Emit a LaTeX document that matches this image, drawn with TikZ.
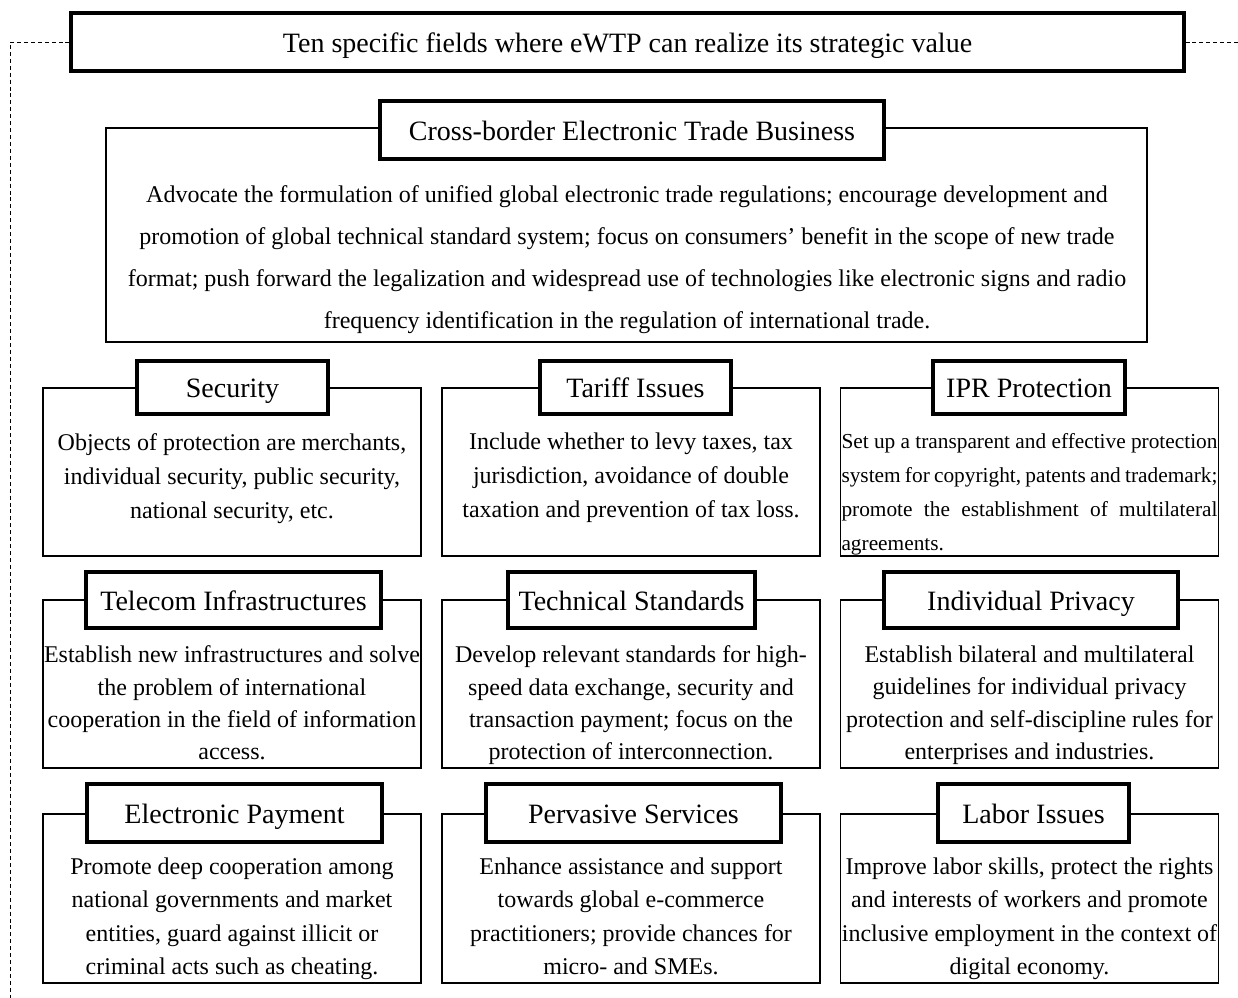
\documentclass[tikz,border=0pt]{standalone}
\usepackage{fontspec}
\setmainfont{Liberation Serif}
\begin{document}
\begin{tikzpicture}[x=0.75pt,y=-0.75pt,
  thickbox/.style={draw,line width=2.3pt,fill=white,inner sep=0pt,text height=18pt,text depth=2.5pt,font=\fontsize{21}{25}\selectfont},
  outerbox/.style={draw,line width=0.95pt,inner sep=0pt,minimum width=378*0.75pt},
  bodytext/.style={anchor=north,inner sep=0pt,align=center,font=\fontsize{18}{25.5}\selectfont},
  dashline/.style={line width=0.7pt,dash pattern=on 3pt off 2.2pt}]
\useasboundingbox (0,0) rectangle (1238,998);

% main title
\node[thickbox,minimum width=1113*0.75pt,minimum height=58*0.75pt] (title) at (627.5,42) {Ten specific fields where eWTP can realize its strategic value};
\coordinate (dlb) at (10,998);
\coordinate (dr) at (1238,42);
\draw[dashline] (title.west) -| (dlb);
\draw[dashline] (title.east) -- (dr);

% cross-border
\node[draw,line width=0.95pt,inner sep=0pt,minimum width=1041*0.75pt,minimum height=214*0.75pt] (cbo) at (626.5,235) {};
\node[thickbox,minimum width=504*0.75pt,minimum height=58*0.75pt] (cbt) at (632,130) {Cross-border Electronic Trade Business};
\node[bodytext,font=\fontsize{18}{31.5}\selectfont] (cbb) at (627,185) {Advocate the formulation of unified global electronic trade regulations; encourage development and\\
promotion of global technical standard system; focus on consumers’ benefit in the scope of new trade\\
format; push forward the legalization and widespread use of technologies like electronic signs and radio\\
frequency identification in the regulation of international trade.};

% row 1
\node[outerbox,minimum height=168*0.75pt] (so) at (232,472) {};
\node[outerbox,minimum height=168*0.75pt] (to) at (631,472) {};
\node[outerbox,minimum height=168*0.75pt] (io) at (1029.5,472) {};
\node[thickbox,minimum width=191*0.75pt,minimum height=53*0.75pt] (st) at (232.5,387.5) {Security};
\node[thickbox,minimum width=191*0.75pt,minimum height=53*0.75pt] (tt) at (635.5,387.5) {Tariff Issues};
\node[thickbox,minimum width=192*0.75pt,minimum height=53*0.75pt] (it) at (1029,387.5) {IPR Protection};
\node[bodytext] (sb) at (232,433) {Objects of protection are merchants,\\ individual security, public security,\\ national security, etc.};
\node[bodytext] (tb) at (631,433) {Include whether to levy taxes, tax\\ jurisdiction, avoidance of double\\ taxation and prevention of tax loss.};
\node[bodytext,align=left,text width=282pt,font=\fontsize{16}{25.5}\selectfont] (ib) at (1029.5,433.5) {\makebox[282pt][l]{Set\hfill up\hfill a\hfill transparent\hfill and\hfill effective\hfill protection}\\
\makebox[282pt][l]{system\hfill for\hfill copyright,\hfill patents\hfill and\hfill trademark;}\\
\makebox[282pt][l]{promote\hfill the\hfill establishment\hfill of\hfill multilateral}\\
agreements.};

% row 2
\node[outerbox,minimum height=168*0.75pt] (teo) at (232,684) {};
\node[outerbox,minimum height=168*0.75pt] (tso) at (631,684) {};
\node[outerbox,minimum height=168*0.75pt] (ipo) at (1029.5,684) {};
\node[thickbox,minimum width=295*0.75pt,minimum height=56*0.75pt] (tet) at (233.5,600) {Telecom Infrastructures};
\node[thickbox,minimum width=247*0.75pt,minimum height=56*0.75pt] (tst) at (631.5,600) {Technical Standards};
\node[thickbox,minimum width=294*0.75pt,minimum height=56*0.75pt] (ipt) at (1031,600) {Individual Privacy};
\node[bodytext,font=\fontsize{18}{24.3}\selectfont] (teb) at (232,645.5) {Establish new infrastructures and solve\\ the problem of international\\ cooperation in the field of information\\ access.};
\node[bodytext,font=\fontsize{18}{24.3}\selectfont] (tsb) at (631,645.5) {Develop relevant standards for high-\\ speed data exchange, security and\\ transaction payment; focus on the\\ protection of interconnection.};
\node[bodytext,font=\fontsize{18}{24.3}\selectfont] (ipb) at (1029.5,645.5) {Establish bilateral and multilateral\\ guidelines for individual privacy\\ protection and self-discipline rules for\\ enterprises and industries.};

% row 3
\node[outerbox,minimum height=169*0.75pt] (epo) at (232,898.5) {};
\node[outerbox,minimum height=169*0.75pt] (pso) at (631,898.5) {};
\node[outerbox,minimum height=169*0.75pt] (lio) at (1029.5,898.5) {};
\node[thickbox,minimum width=295*0.75pt,minimum height=58*0.75pt] (ept) at (234.5,813) {Electronic Payment};
\node[thickbox,minimum width=295*0.75pt,minimum height=58*0.75pt] (pst) at (633.5,813) {Pervasive Services};
\node[thickbox,minimum width=191*0.75pt,minimum height=58*0.75pt] (lit) at (1033.5,813) {Labor Issues};
\node[bodytext,font=\fontsize{18}{25}\selectfont] (epb) at (232,857.5) {Promote deep cooperation among\\ national governments and market\\ entities, guard against illicit or\\ criminal acts such as cheating.};
\node[bodytext,font=\fontsize{18}{25}\selectfont] (psb) at (631,857.5) {Enhance assistance and support\\ towards global e-commerce\\ practitioners; provide chances for\\ micro- and SMEs.};
\node[bodytext,font=\fontsize{18}{25}\selectfont] (lib) at (1029.5,857.5) {Improve labor skills, protect the rights\\ and interests of workers and promote\\ inclusive employment in the context of\\ digital economy.};
\end{tikzpicture}
\end{document}
